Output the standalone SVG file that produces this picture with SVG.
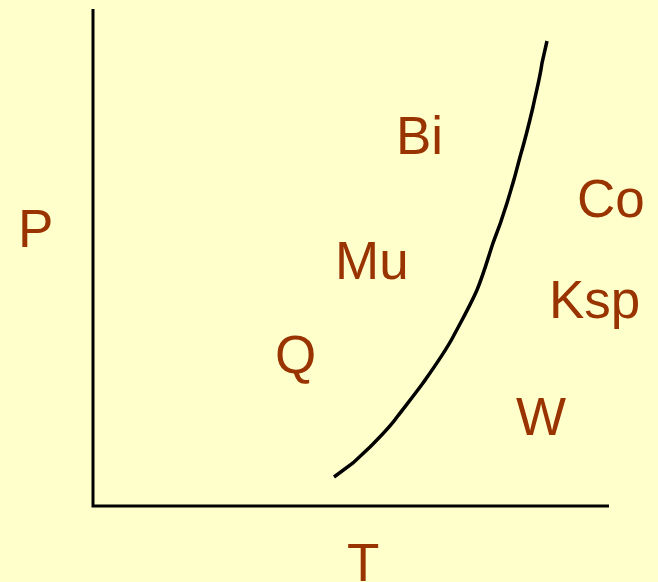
<svg xmlns="http://www.w3.org/2000/svg" width="658" height="582" viewBox="0 0 658 582">
<style>
.lbl{font-family:"Liberation Sans",Arial,sans-serif;font-size:53px;fill:#993300}
.ln{fill:none;stroke:#000;stroke-width:3}
</style>
<rect width="658" height="582" fill="#FFFFCC"/>
<g id="axes">
<path class="ln" d="M93,9 V506 H609"/>
</g>
<g id="curve">
<path class="ln" stroke-width="3.5" style="stroke-width:3.5" d="M334,477 L353,463 L370,447 C380,437 390,427 397,417 C407,404 415,394 423,383 C435,366 445,352 453,337 C462,320 470,306 477,290 C484,273 488,258 493,243 C499,228 503,216 507,203 C512,187 516,173 520,157 C525,140 529,124 533,107 C536,92 540,78 542,63 L547,41"/>
</g>
<text class="lbl" x="18" y="247">P</text>
<text class="lbl" x="396" y="154">Bi</text>
<text class="lbl" x="335" y="279">Mu</text>
<text class="lbl" x="275" y="373">Q</text>
<text class="lbl" x="577" y="217">Co</text>
<text class="lbl" x="549" y="318">Ksp</text>
<text class="lbl" x="516" y="435">W</text>
<text class="lbl" x="347" y="581">T</text>
</svg>
